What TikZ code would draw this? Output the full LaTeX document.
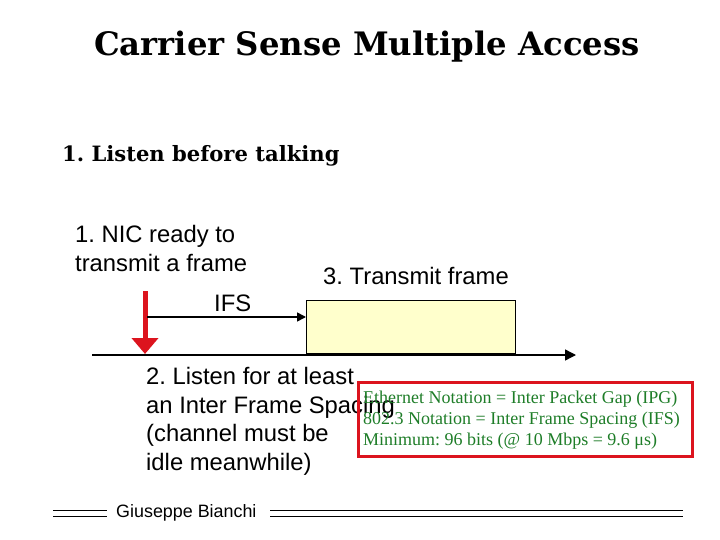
\documentclass[tikz,border=0pt]{standalone}
\usepackage{fontspec}
\setmainfont{Liberation Serif}
\setsansfont{Liberation Sans}
\newfontfamily\slabfont{DejaVu Serif}
\usetikzlibrary{arrows.meta,positioning}
\definecolor{frameyellow}{RGB}{255,255,204}
\definecolor{notegreen}{RGB}{30,125,40}
\definecolor{alertred}{RGB}{220,20,30}
\frenchspacing
\tikzset{
  slide/.style={font=\sffamily\fontsize{23.8}{28.7}\selectfont, inner sep=0pt, align=left},
  heading/.style={font=\slabfont\bfseries, inner sep=0pt},
  note/.style={font=\fontsize{18}{21}\selectfont, text=notegreen, inner sep=0pt, align=left},
  line/.style={line width=1.6pt, -{Triangle[length=9pt,width=9pt]}},
}
\begin{document}
\begin{tikzpicture}[x=1pt,y=-1pt]
  \useasboundingbox (0,0) rectangle (720,540);
  % headings
  \node[heading, font=\slabfont\bfseries\fontsize{32.3}{36}\selectfont] (title) at (367,47) {Carrier Sense Multiple Access};
  \node[heading, anchor=west, font=\slabfont\bfseries\fontsize{21.1}{24}\selectfont] (rule) at (62,156) {1. Listen before talking};

  % steps
  \node[slide, anchor=north west] (ready) at (75,225) {1. NIC ready to\\transmit a frame};
  \node[slide, anchor=west] (send) at (323,276) {3. Transmit frame};
  \node[slide, anchor=west] (ifs) at (214,303) {IFS};
  \node[slide, anchor=north west] (listen) at (146,367) {2. Listen for at least\\an Inter Frame Spacing\\(channel must be\\idle meanwhile)};

  % the frame on the channel
  \node[draw, fill=frameyellow, line width=1pt, minimum width=209pt, minimum height=53pt, anchor=south west, inner sep=0pt] (frame) at (306,354) {};

  % time axis
  \coordinate (t0) at (92,355);
  \coordinate (t1) at (576,355);
  \draw[line width=1.4pt, -{Triangle[length=11pt,width=11pt]}] (t0) -- (t1);

  % ready instant and inter frame spacing
  \coordinate (go) at (145,291);
  \coordinate (hit) at (145,354);
  \draw[alertred, line width=5pt, -{Triangle[length=16pt,width=26pt]}] (go) -- (hit);
  \coordinate (wait) at (147,317);
  \draw[line] (wait) -- (wait -| frame.west);

  % notation box
  \node[draw=alertred, line width=3pt, minimum width=334pt, minimum height=74pt, anchor=north west] (box) at (357,381) {};
  \node[note, anchor=north west] (names) at (363,391) {Ethernet Notation = Inter Packet Gap (IPG)\\802.3 Notation = Inter Frame Spacing (IFS)\\Minimum: 96 bits (@ 10 Mbps = 9.6 μs)};

  % footer
  \node[font=\sffamily\fontsize{17.9}{20}\selectfont, inner sep=0pt, anchor=west] (author) at (116,513) {Giuseppe Bianchi};
  \draw[line width=1pt] (53,510) -- (107,510) (53,516) -- (107,516);
  \draw[line width=1pt] (270,510) -- (683,510) (270,516) -- (683,516);
\end{tikzpicture}
\end{document}
